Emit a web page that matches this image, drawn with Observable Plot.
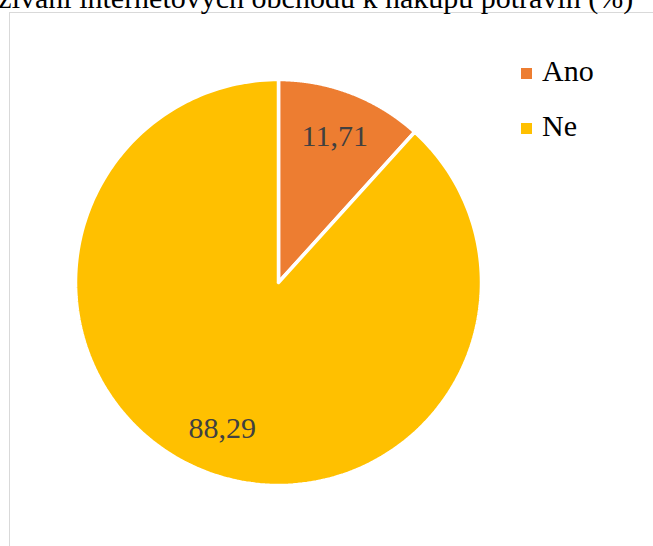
<!DOCTYPE html>
<html lang="cs">
<head>
<meta charset="utf-8">
<style>
  html, body, div, span, svg, text { font-family: 'Liberation Serif', 'Tinos', 'Times New Roman', serif !important; }
</style>
<script src="https://cdn.jsdelivr.net/npm/d3@7"></script>
<script src="https://cdn.jsdelivr.net/npm/@observablehq/plot@0.6"></script>
</head>
<body style="margin:0;padding:0;background:#fff;position:relative;width:653px;height:546px;overflow:hidden;">
<div style="position:absolute;left:9px;top:12px;width:644px;height:534px;border-left:1.5px solid #d9d9d9;border-top:1.5px solid #d9d9d9;box-sizing:border-box;"></div>
<div id="chart" style="position:absolute;left:0;top:0;width:653px;height:546px;"></div>
<div style="position:absolute;left:0;top:0;width:653px;height:22px;overflow:hidden;">
  <div id="title" style="position:absolute;left:-50px;top:-17px;font-size:30px;line-height:30px;white-space:nowrap;color:#000;"></div>
</div>
<div id="legend" style="position:absolute;left:521px;top:0;width:130px;height:200px;font-size:30px;color:#000;"></div>
<script>
const title = "Využívání internetových obchodů k nákupu potravin (%)";
const categories = ["Ano", "Ne"];
const values = [11.71, 88.29];
const labels = ["11,71", "88,29"];
const colors = ["#ED7D31", "#FFC000"];

document.getElementById("title").textContent = title;

const arcs = d3.pie().sort(null).value(d => d)(values);

// Slice outlines in unit-circle space
const pts = [];
arcs.forEach((a, i) => {
  const cat = categories[i];
  pts.push({cat, x: 0, y: 0});
  const n = 240;
  for (let k = 0; k <= n; k++) {
    const t = a.startAngle + (a.endAngle - a.startAngle) * k / n;
    pts.push({cat, x: Math.sin(t), y: Math.cos(t)});
  }
  pts.push({cat, x: 0, y: 0});
});

const labelR = 0.77;
const labelData = arcs.map((a, i) => {
  const m = (a.startAngle + a.endAngle) / 2;
  return {cat: categories[i], text: labels[i], x: labelR * Math.sin(m), y: labelR * Math.cos(m)};
});

const chart = Plot.plot({
  width: 653,
  height: 546,
  marginLeft: 75,
  marginRight: 172,
  marginTop: 79,
  marginBottom: 61,
  x: {domain: [-1, 1], axis: null},
  y: {domain: [-1, 1], axis: null},
  color: {domain: categories, range: colors},
  style: {background: "transparent", fontFamily: "Liberation Serif"},
  marks: [
    Plot.line(pts, {x: "x", y: "y", z: "cat", fill: "cat", stroke: "white", strokeWidth: 3.5, strokeLinejoin: "miter"}),
    Plot.text(labelData, {x: "x", y: "y", text: "text", fill: "#404040", fontSize: 30, fontFamily: "Liberation Serif"})
  ]
});
document.getElementById("chart").appendChild(chart);

const legend = document.getElementById("legend");
categories.forEach((c, i) => {
  const d = document.createElement("div");
  d.style.cssText = "position:absolute;left:0;white-space:nowrap;line-height:30px;";
  d.style.top = (56 + i * 55) + "px";
  d.innerHTML = `<span style="display:inline-block;width:11px;height:11px;margin-right:10px;vertical-align:2px;background:${colors[i]}"></span>${c}`;
  legend.appendChild(d);
});
</script>
</body>
</html>
